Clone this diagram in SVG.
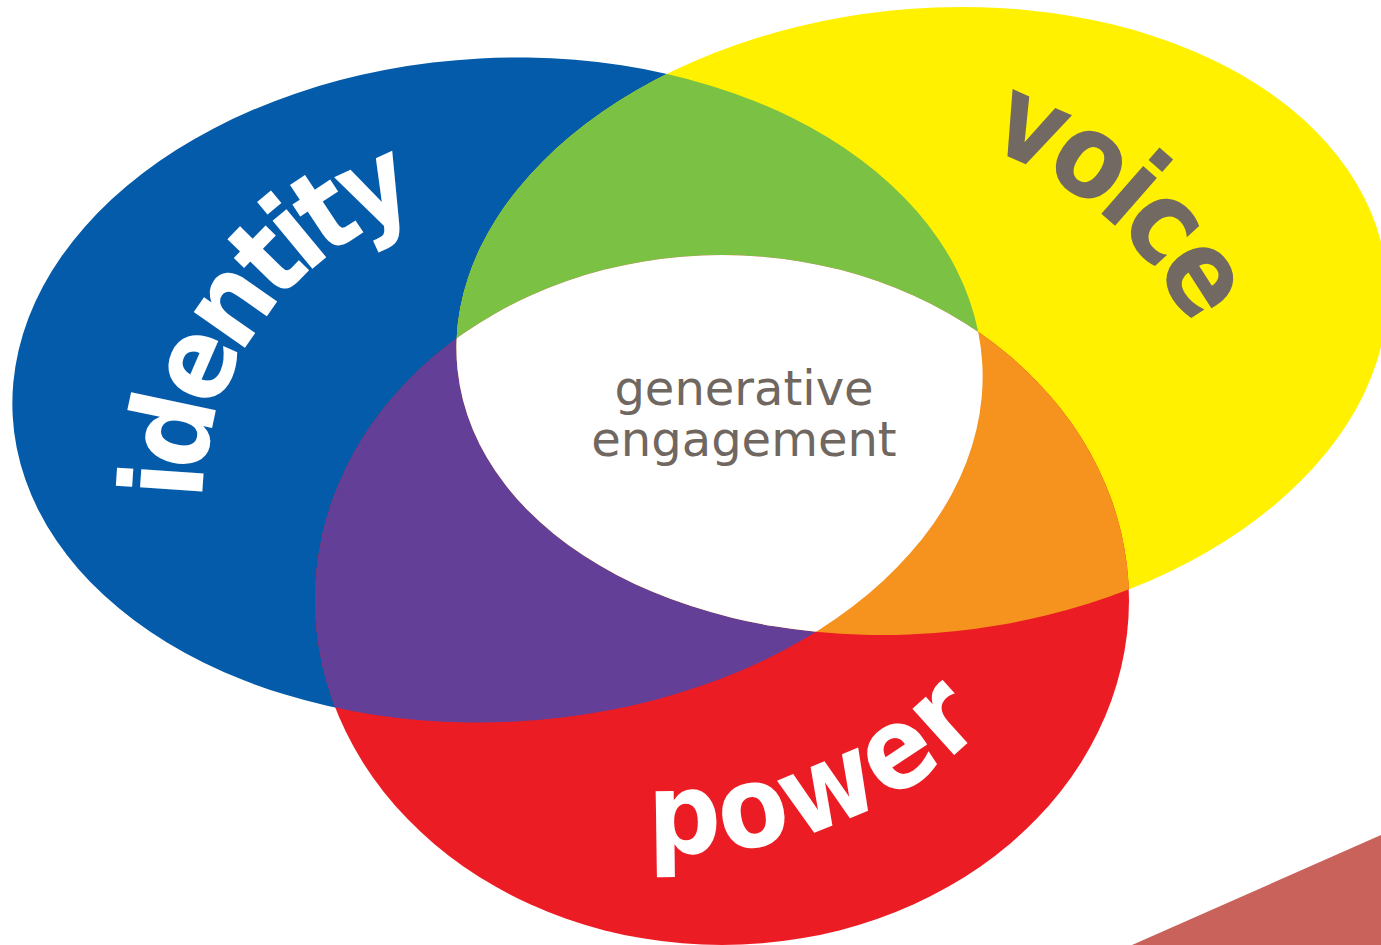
<svg xmlns="http://www.w3.org/2000/svg" width="1381" height="945" viewBox="0 0 1381 945">
<style>
.lbl{font-family:"DejaVu Sans Condensed","DejaVu Sans",Verdana,sans-serif;font-weight:bold;font-stretch:condensed}
.ctr{font-family:"DejaVu Sans",Verdana,sans-serif;font-size:48px;fill:#6f6760;text-anchor:middle}
</style>
<defs>
<ellipse id="eB" cx="497.5" cy="390" rx="485.5" ry="332" transform="rotate(-3 497.5 390)"/>
<ellipse id="eY" cx="922" cy="321" rx="467" ry="312" transform="rotate(-6 922 321)"/>
<ellipse id="eR" cx="722" cy="600" rx="407" ry="345"/>
<clipPath id="cB"><use href="#eB"/></clipPath>
<clipPath id="cY"><use href="#eY"/></clipPath>
<path id="pId" d="M202.1,500 A314,314 0 0 1 830,509"/>
<path id="pVo" d="M985,147.6 A360,360 0 0 1 1228,488"/>
<path id="pPo" d="M648,852 A430,430 0 0 0 1110,422"/>
</defs>
<rect width="1381" height="945" fill="#ffffff"/>
<polygon id="corner" points="1132,945 1381,835 1381,945" fill="#c9625b"/>
<g id="identity"><use href="#eB" fill="#035baa"/></g>
<g id="voice"><use href="#eY" fill="#fff100"/></g>
<g id="power"><use href="#eR" fill="#ec1c24"/></g>
<g id="identity-voice" clip-path="url(#cB)"><use href="#eY" fill="#7bc143"/></g>
<g id="identity-power" clip-path="url(#cB)"><use href="#eR" fill="#643f97"/></g>
<g id="voice-power" clip-path="url(#cY)"><use href="#eR" fill="#f6921e"/></g>
<g id="generative-engagement">
<g clip-path="url(#cB)"><g clip-path="url(#cY)"><use href="#eR" fill="#ffffff"/></g></g>
<text class="ctr" x="744" y="405">generative</text>
<text class="ctr" x="744" y="456">engagement</text>
</g>
<g id="labels">
<text class="lbl" font-size="114" letter-spacing="-9" fill="#ffffff"><textPath href="#pId">identity</textPath></text>
<text class="lbl" font-size="116" letter-spacing="-7" fill="#726a62"><textPath href="#pVo">voice</textPath></text>
<text class="lbl" font-size="114" letter-spacing="3" fill="#ffffff"><textPath href="#pPo">power</textPath></text>
</g>
<g id="connectors"/>
</svg>
